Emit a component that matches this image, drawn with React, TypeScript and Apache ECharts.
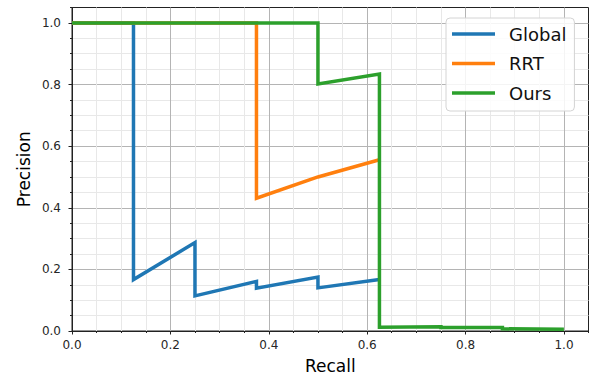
import React, { useEffect, useRef } from 'react';
import * as echarts from 'echarts';

const seriesNames = ['Global', 'RRT', 'Ours'];
const seriesColors = ['#1f77b4', '#ff7f0e', '#2ca02c'];

const globalRecall = [0, 0.125, 0.125, 0.25, 0.25, 0.375, 0.375, 0.5, 0.5, 0.625];
const globalPrecision = [1, 1, 0.167, 0.287, 0.114, 0.161, 0.139, 0.175, 0.14, 0.167];

const rrtRecall = [0, 0.375, 0.375, 0.5, 0.625];
const rrtPrecision = [1, 1, 0.431, 0.5, 0.556];

const oursRecall = [0, 0.5, 0.5, 0.625, 0.625, 0.75, 0.75, 0.875, 0.875, 1.0];
const oursPrecision = [1, 1, 0.802, 0.834, 0.012, 0.014, 0.011, 0.011, 0.007, 0.006];

const FONT = 'DejaVu Sans';
const MAJOR = '#b4b4b4';
const MINOR = '#e8e8e8';
const INK = '#222222';

const toPairs = (xs: number[], ys: number[]) => xs.map((x, i) => [x, ys[i]]);

export default function App() {
  const ref = useRef<HTMLDivElement>(null);
  useEffect(() => {
    if (!ref.current) return;
    const chart = echarts.init(ref.current, null, { renderer: 'svg' });
    const mainGrid = { left: 72, right: 5.5, top: 7.5, bottom: 51 };
    const unitGrid = { left: 72, right: 30, top: 23, bottom: 51 };
    const mainAxisCommon = {
      type: 'value',
      min: 0,
      max: 1.05,
      interval: 0.05,
      axisLine: { show: true, onZero: false, lineStyle: { color: INK, width: 1 } },
      axisTick: { show: true, length: 2, lineStyle: { color: INK, width: 1 } },
      axisLabel: { show: false },
      splitLine: {
        show: true,
        showMinLine: true,
        showMaxLine: false,
        lineStyle: { color: [MAJOR, MINOR, MINOR, MINOR], width: 1 },
      },
    };
    const unitAxisCommon = {
      type: 'value',
      gridIndex: 1,
      min: 0,
      max: 1,
      interval: 0.2,
      axisLine: { show: false, onZero: false },
      axisTick: { show: true, length: 3.5, lineStyle: { color: INK, width: 1 } },
      splitLine: { show: false },
    };
    const makeSeries = (i: number, xs: number[], ys: number[]) => ({
      type: 'line',
      name: seriesNames[i],
      xAxisIndex: 0,
      yAxisIndex: 0,
      data: toPairs(xs, ys),
      symbol: 'none',
      showSymbol: false,
      lineStyle: { color: seriesColors[i], width: 3.5, join: 'miter' },
      itemStyle: { color: seriesColors[i] },
      emphasis: { disabled: true },
      z: 3 + i,
      clip: true,
    });
    chart.setOption({
      animation: false,
      backgroundColor: '#ffffff',
      grid: [
        { ...mainGrid, show: true, borderColor: INK, borderWidth: 1, backgroundColor: 'transparent' },
        { ...unitGrid, show: false },
      ],
      xAxis: [
        {
          ...mainAxisCommon,
          gridIndex: 0,
          name: 'Recall',
          nameLocation: 'middle',
          nameGap: 26,
          nameTextStyle: { fontSize: 17, color: '#000', fontFamily: FONT },
        },
        {
          ...unitAxisCommon,
          axisLabel: {
            show: true,
            margin: 8,
            fontSize: 12,
            color: '#262626',
            fontFamily: FONT,
            formatter: (v: number) => v.toFixed(1),
          },
        },
      ],
      yAxis: [
        {
          ...mainAxisCommon,
          gridIndex: 0,
          name: 'Precision',
          nameLocation: 'middle',
          nameGap: 40,
          nameTextStyle: { fontSize: 17, color: '#000', fontFamily: FONT },
        },
        {
          ...unitAxisCommon,
          axisLabel: {
            show: true,
            margin: 11,
            fontSize: 12,
            color: '#262626',
            fontFamily: FONT,
            formatter: (v: number) => v.toFixed(1),
          },
        },
      ],
      legend: {
        orient: 'vertical',
        left: 446,
        top: 18,
        icon: 'rect',
        itemWidth: 43,
        itemHeight: 3.5,
        itemGap: 11.5,
        padding: [7, 8, 9, 6],
        backgroundColor: 'rgba(255,255,255,0.85)',
        borderColor: '#d4d4d4',
        borderWidth: 1,
        borderRadius: 4,
        textStyle: { fontSize: 18, lineHeight: 18, color: '#111', fontFamily: FONT, padding: [0, 0, 0, 9] },
        data: seriesNames,
      },
      series: [
        makeSeries(0, globalRecall, globalPrecision),
        makeSeries(1, rrtRecall, rrtPrecision),
        makeSeries(2, oursRecall, oursPrecision),
      ],
    });
    return () => chart.dispose();
  }, []);
  return (
    <div
      ref={ref}
      style={{ position: 'fixed', left: 0, top: 0, width: 594, height: 382, background: '#fff' }}
    />
  );
}
